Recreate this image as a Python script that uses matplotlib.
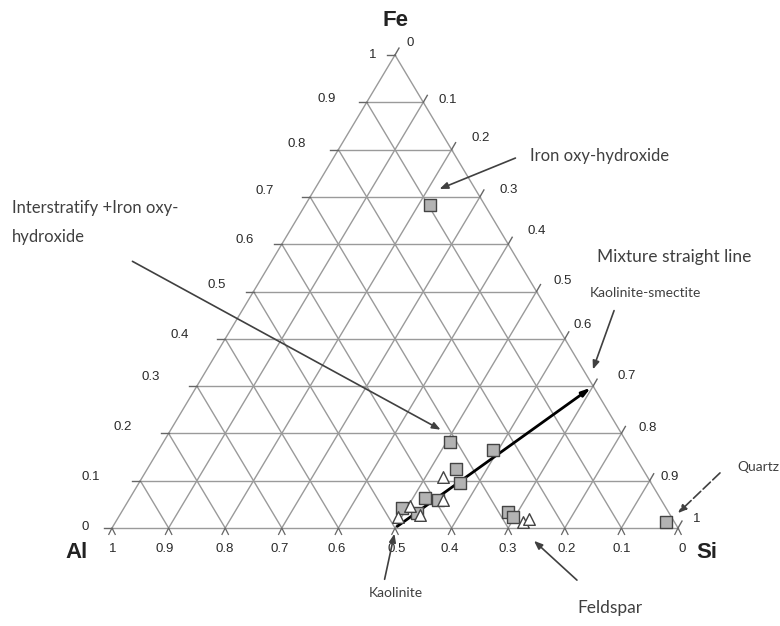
"""Ternary Al-Si-Fe diagram with mineral annotations."""
import matplotlib
matplotlib.use('Agg')
import matplotlib.pyplot as plt
import numpy as np

GRID = '#9a9a9a'
TXT = '#2a2a2a'
ANN = '#404040'

# ---- data (fractions Al, Si, Fe) ----
sq_al = [0.097, 0.312, 0.244, 0.330, 0.338, 0.415, 0.467, 0.445, 0.395, 0.283, 0.280, 0.015]
sq_si = [0.220, 0.506, 0.591, 0.545, 0.567, 0.522, 0.491, 0.523, 0.546, 0.683, 0.697, 0.972]
sq_fe = [0.683, 0.182, 0.165, 0.125, 0.095, 0.063, 0.042, 0.032, 0.059, 0.034, 0.023, 0.013]

tri_al = [0.361, 0.450, 0.386, 0.483, 0.442, 0.267, 0.254]
tri_si = [0.531, 0.503, 0.555, 0.494, 0.531, 0.720, 0.727]
tri_fe = [0.108, 0.047, 0.059, 0.023, 0.027, 0.013, 0.019]

# mixture line: kaolinite -> kaolinite-smectite
mix_si = [0.5, 0.7]
mix_fe = [0.0, 0.3]

ticks = [round(0.1 * i, 1) for i in range(11)]
tick_txt = ['0', '0.1', '0.2', '0.3', '0.4', '0.5', '0.6', '0.7', '0.8', '0.9', '1']


def tern(si, fe):
    si = np.asarray(si, float)
    fe = np.asarray(fe, float)
    return si + fe / 2, fe


# pixel calibration of the triangle (Al at 112,528 ; Si at 678,528 ; apex y 55)
X0, XW, Y0, YH = 112, 566, 528, 473


def px(x, y):
    return (x - X0) / XW, (Y0 - y) / YH


fig = plt.figure(figsize=(7.8, 6.26), dpi=100)
ax = fig.add_axes([0, 0, 1, 1])
ax.set_xlim(px(0, 0)[0], px(780, 0)[0])
ax.set_ylim(px(0, 626)[1], px(0, 0)[1])
ax.axis('off')
fig.patch.set_facecolor('white')

# grid and outline
for t in ticks:
    # horizontal (constant Fe)
    x1, y1 = tern(0, t)
    x2, y2 = tern(1 - t, t)
    ax.plot([x1, x2], [y1, y2], color=GRID, lw=1, zorder=1)
    # constant Si
    x1, y1 = tern(t, 0)
    x2, y2 = tern(t, 1 - t)
    ax.plot([x1, x2], [y1, y2], color=GRID, lw=1, zorder=1)
    # constant Al
    x1, y1 = tern(1 - t, 0)
    x2, y2 = tern(0, 1 - t)
    ax.plot([x1, x2], [y1, y2], color=GRID, lw=1, zorder=1)

# tick marks
d = 8 / XW
for t in ticks:
    # left: horizontal lines extended left
    x, y = tern(0, t)
    ax.plot([x - d, x], [y, y], color='#666666', lw=1, zorder=1)
    # right: lines extended up-right
    x, y = tern(1 - t, t)
    ax.plot([x, x + d * 0.5], [y, y + d * XW * 0.866 / YH], color='#666666', lw=1, zorder=1)
    # bottom: small V
    x, y = tern(1 - t, 0)
    ax.plot([x - d * 0.4, x, x + d * 0.4], [-d * 0.8 * XW / YH, 0, -d * 0.8 * XW / YH],
            color='#666666', lw=0.9, zorder=1)

# tick labels (left: Fe, right: Si, bottom: Al)
left_pos = [(85, 527), (91, 477), (123, 427), (151, 377), (180, 335), (217, 285),
            (245, 240), (265, 191), (297, 144), (327, 99), (373, 55)]
right_pos = [(410, 43), (448, 100), (481, 138), (509, 190), (537, 231), (563, 281),
             (583, 325), (627, 376), (648, 428), (670, 477), (697, 519)]
bottom_x = [682, 622, 567, 508, 450, 397, 337, 280, 225, 165, 113]
for i, lab in enumerate(tick_txt):
    ax.text(*px(*left_pos[i]), lab, fontsize=9.5, color=TXT, ha='center', va='center',
            family='Liberation Sans')
    ax.text(*px(*right_pos[i]), lab, fontsize=9.5, color=TXT, ha='center', va='center',
            family='Liberation Sans')
    ax.text(*px(bottom_x[i], 549), lab, fontsize=9.5, color=TXT, ha='center', va='center',
            family='Liberation Sans')

# vertex labels
for lab, pos in [('Fe', (395, 21)), ('Al', (77, 553)), ('Si', (707, 552))]:
    ax.text(*px(*pos), lab, fontsize=16, fontweight='bold', color='#222222',
            ha='center', va='center', family='Liberation Sans')

# mixture line
mx, my = tern(mix_si, mix_fe)
ax.annotate('', xy=(mx[1], my[1]), xytext=(mx[0], my[0]),
            arrowprops=dict(arrowstyle='-|>,head_length=0.5,head_width=0.15',
                            color='black', lw=2), zorder=4)

# points
x, y = tern(sq_si, sq_fe)
ax.scatter(x, y, marker='s', s=80, facecolor='#b3b3b3', edgecolor='#444444',
           linewidth=1, zorder=5)
x, y = tern(tri_si, tri_fe)
ax.scatter(x, y, marker='^', s=70, facecolor='white', edgecolor='#444444',
           linewidth=1, zorder=5)

# annotations
arrow_kw = dict(arrowstyle='-|>,head_length=0.5,head_width=0.2', color=ANN, lw=1.2)
ann_font = dict(family='Lato', color=ANN)

ax.text(*px(530, 156), 'Iron oxy-hydroxide', fontsize=12, ha='left', va='center', **ann_font)
ax.annotate('', xy=px(437, 190), xytext=px(518, 157), arrowprops=arrow_kw)

ax.text(*px(12, 208), 'Interstratify +Iron oxy-', fontsize=12, ha='left', va='center',
        **ann_font)
ax.text(*px(12, 237), 'hydroxide', fontsize=12, ha='left', va='center', **ann_font)
ax.annotate('', xy=px(443, 431), xytext=px(130, 260), arrowprops=arrow_kw)

ax.text(*px(597, 257), 'Mixture straight line', fontsize=12.5, ha='left', va='center',
        **ann_font)

ax.text(*px(590, 293), 'Kaolinite-smectite', fontsize=10, ha='left', va='center', **ann_font)
ax.annotate('', xy=px(592, 372), xytext=px(615, 308), arrowprops=arrow_kw)

ax.text(*px(396, 593), 'Kaolinite', fontsize=10, ha='center', va='center', **ann_font)
ax.annotate('', xy=px(395, 531), xytext=px(384, 582), arrowprops=arrow_kw)

ax.text(*px(610, 608), 'Feldspar', fontsize=12.5, ha='center', va='center', **ann_font)
ax.annotate('', xy=px(532, 539), xytext=px(579, 582), arrowprops=arrow_kw)

ax.text(*px(737, 467), 'Quartz', fontsize=10, ha='left', va='center', **ann_font)
ax.annotate('', xy=px(676, 515), xytext=px(722, 471),
            arrowprops=dict(arrowstyle='-|>,head_length=0.5,head_width=0.2', color=ANN,
                            lw=1.2, linestyle=(0, (6, 2))))

fig.savefig('out.png', dpi=100, facecolor='white')
